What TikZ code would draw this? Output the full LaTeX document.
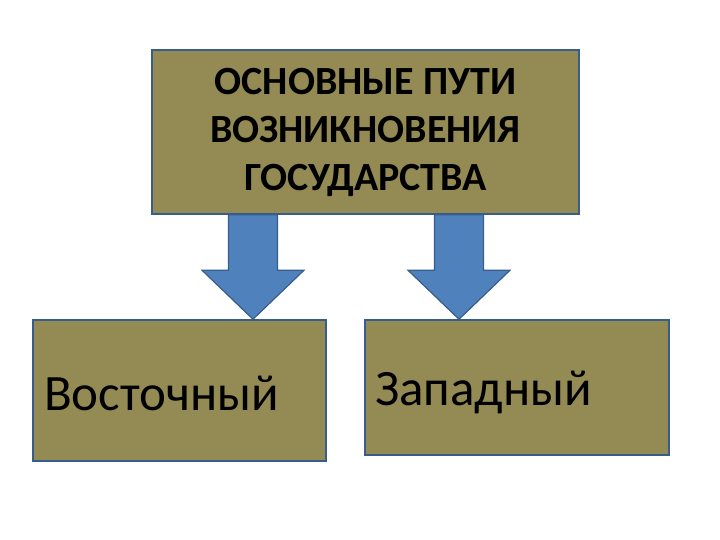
\documentclass[tikz,border=0pt]{standalone}
\usepackage{fontspec}
\setmainfont{Carlito}
\usepackage{tikz}
\usetikzlibrary{calc}
\definecolor{olivebox}{HTML}{948A54}
\definecolor{boxline}{HTML}{385D8A}
\definecolor{arrowfill}{HTML}{4F81BD}

\newcommand\downblock[2]{%
\draw[blockarrow] ($(#1)+(-24.5,0)$) -- ($(#2)+(-24.5,-49)$) -- ($(#2)+(-51,-49)$) -- (#2)
 -- ($(#2)+(51,-49)$) -- ($(#2)+(24.5,-49)$) -- ($(#1)+(24.5,0)$) -- cycle;}

\begin{document}
\begin{tikzpicture}
[x=1pt, y=-1pt,
mainbox/.style={rectangle,draw=boxline,line width=1.5pt,fill=olivebox,inner sep=0pt},
titlebox/.style={mainbox,minimum width=427pt,minimum height=164pt,align=center,font=\bfseries\fontsize{40}{48}\selectfont},
waybox/.style={mainbox},
waytext/.style={anchor=base west,inner sep=0pt,font=\fontsize{51}{60}\selectfont},
blockarrow/.style={draw=boxline,line width=1.2pt,fill=arrowfill,line join=miter}]
\useasboundingbox[fill=white] (0,0) rectangle (720,540);

\node[titlebox] (top) at (365.5,132) {ОСНОВНЫЕ ПУТИ\\ВОЗНИКНОВЕНИЯ\\ГОСУДАРСТВА};
\node[waybox,minimum width=293pt,minimum height=141pt] (east) at (179.5,390.5) {};
\node[waybox,minimum width=304pt,minimum height=135pt] (west) at (517,387.5) {};

\node[waytext] (easttext) at (44,410) {Восточный};
\node[waytext] (westtext) at (375,405) {Западный};

\coordinate (s1) at (top.south -| 253,0);
\coordinate (t1) at (east.north -| 253,0);
\coordinate (s2) at (top.south -| 459,0);
\coordinate (t2) at (west.north -| 459,0);
\downblock{s1}{t1}
\downblock{s2}{t2}
\end{tikzpicture}
\end{document}
